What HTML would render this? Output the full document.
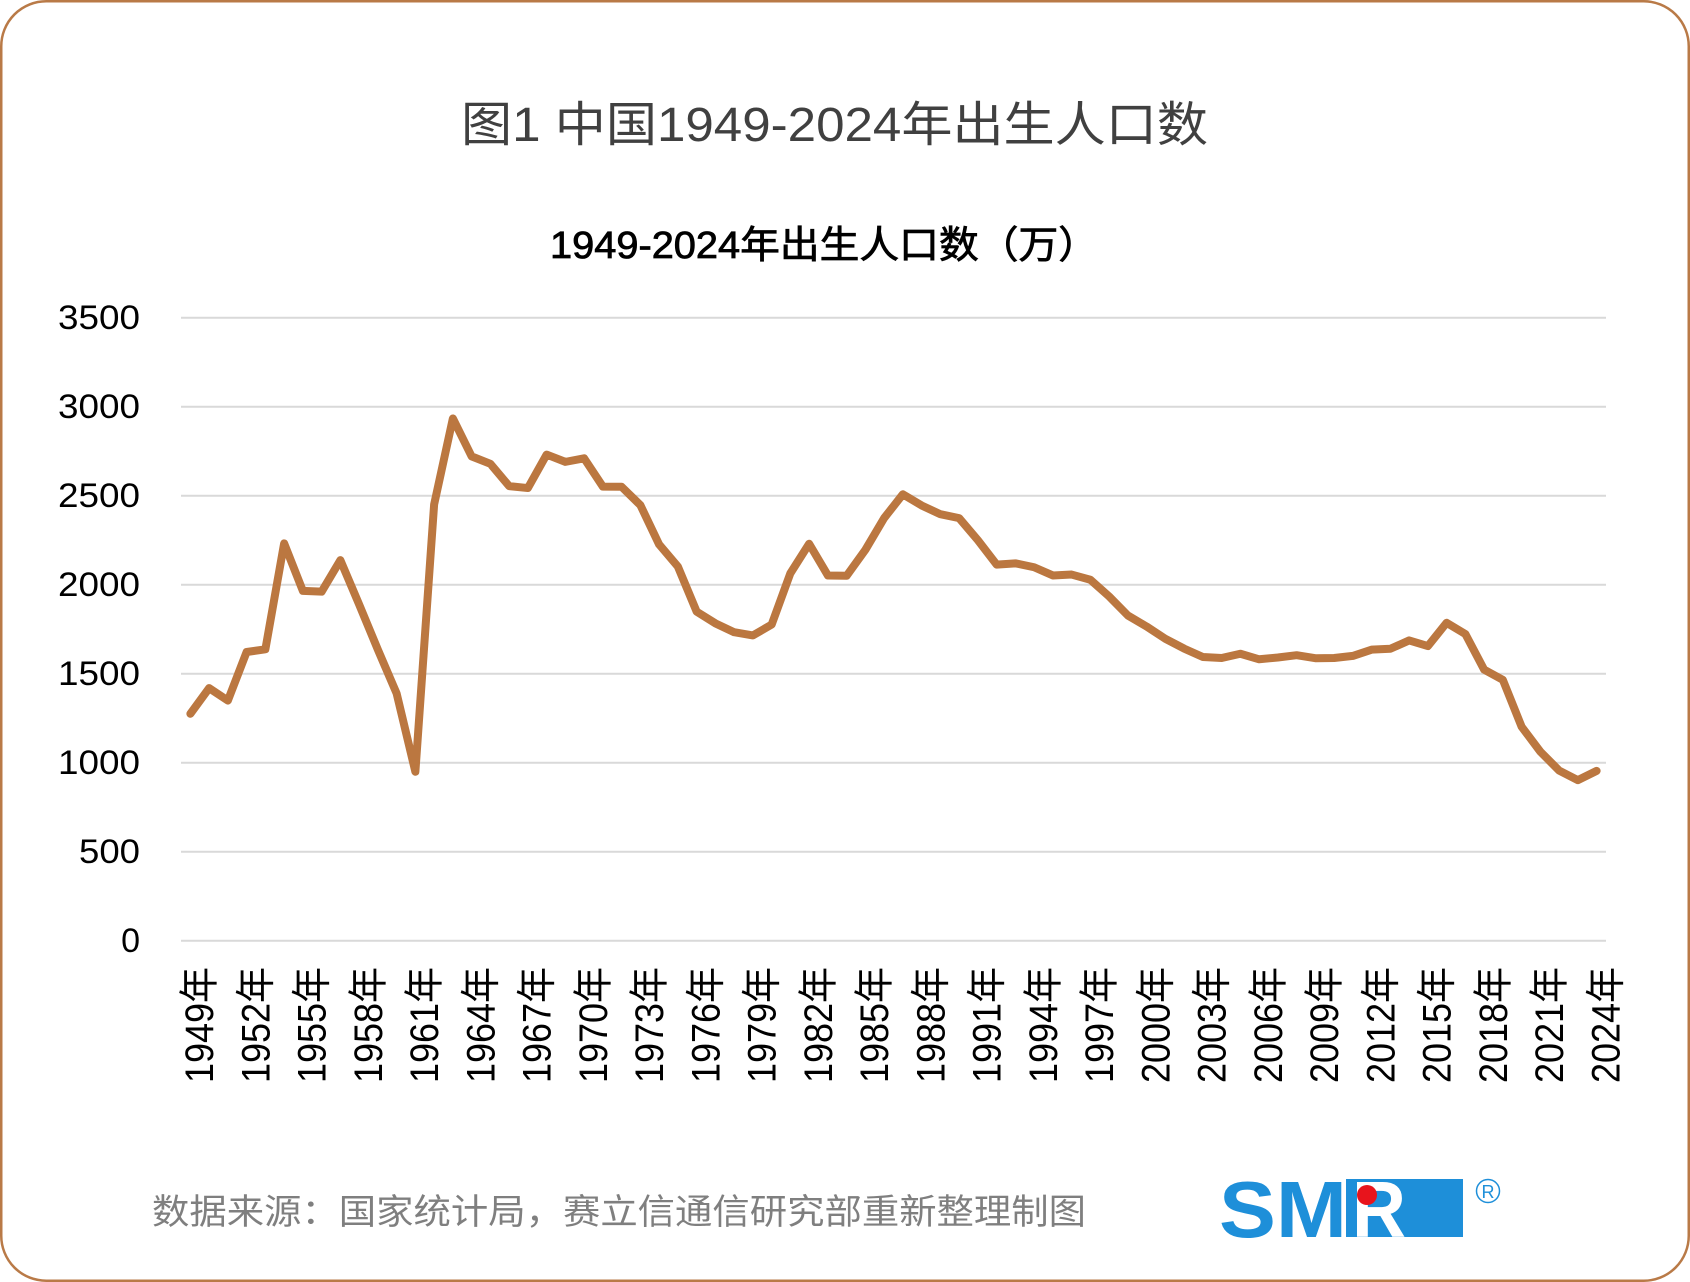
<!DOCTYPE html>
<html>
<head>
<meta charset="utf-8">
<style>
html,body{margin:0;padding:0;background:#fff;}
svg{display:block;}
</style>
</head>
<body>
<svg width="1690" height="1282" viewBox="0 0 1690 1282" xmlns="http://www.w3.org/2000/svg">
  <rect x="0" y="0" width="1690" height="1282" fill="#ffffff"/>
  <rect x="1.25" y="1.25" width="1687.5" height="1279.5" rx="45" ry="45" fill="#ffffff" stroke="#b97a47" stroke-width="2.5"/>

  <!-- Title -->
  <text x="461" y="141" font-family="'Liberation Sans','Noto Sans CJK SC',sans-serif" font-size="48" fill="#404040" textLength="747" lengthAdjust="spacingAndGlyphs">图1 中国1949-2024年出生人口数</text>
  <!-- Subtitle -->
  <text x="550" y="258" font-family="'Liberation Sans','Noto Sans CJK SC',sans-serif" font-size="38" fill="#000000" stroke="#000000" stroke-width="0.8" textLength="548" lengthAdjust="spacingAndGlyphs">1949-2024年出生人口数（万）</text>

  <!-- Gridlines -->
  <g stroke="#d9d9d9" stroke-width="2">
    <line x1="181" y1="317.7" x2="1606" y2="317.7"/>
    <line x1="181" y1="406.7" x2="1606" y2="406.7"/>
    <line x1="181" y1="495.7" x2="1606" y2="495.7"/>
    <line x1="181" y1="584.7" x2="1606" y2="584.7"/>
    <line x1="181" y1="673.7" x2="1606" y2="673.7"/>
    <line x1="181" y1="762.7" x2="1606" y2="762.7"/>
    <line x1="181" y1="851.7" x2="1606" y2="851.7"/>
    <line x1="181" y1="940.7" x2="1606" y2="940.7"/>
  </g>

  <!-- Y labels -->
  <g font-family="'Liberation Sans',sans-serif" font-size="34" fill="#000000" text-anchor="end">
    <text x="140" y="329.2" textLength="82" lengthAdjust="spacingAndGlyphs">3500</text>
    <text x="140" y="418.2" textLength="82" lengthAdjust="spacingAndGlyphs">3000</text>
    <text x="140" y="507.2" textLength="82" lengthAdjust="spacingAndGlyphs">2500</text>
    <text x="140" y="596.2" textLength="82" lengthAdjust="spacingAndGlyphs">2000</text>
    <text x="140" y="685.2" textLength="82" lengthAdjust="spacingAndGlyphs">1500</text>
    <text x="140" y="774.2" textLength="82" lengthAdjust="spacingAndGlyphs">1000</text>
    <text x="140" y="863.2" textLength="61" lengthAdjust="spacingAndGlyphs">500</text>
    <text x="140" y="952.2">0</text>
  </g>

  <!-- X labels (rotated) -->
  <g font-family="'Liberation Sans','Noto Sans CJK SC',sans-serif" font-size="36" fill="#000000" text-anchor="end">
    <text transform="translate(213,967) rotate(-90) scale(1,1.1)">1949年</text>
    <text transform="translate(269.25,967) rotate(-90) scale(1,1.1)">1952年</text>
    <text transform="translate(325.5,967) rotate(-90) scale(1,1.1)">1955年</text>
    <text transform="translate(381.75,967) rotate(-90) scale(1,1.1)">1958年</text>
    <text transform="translate(438,967) rotate(-90) scale(1,1.1)">1961年</text>
    <text transform="translate(494.25,967) rotate(-90) scale(1,1.1)">1964年</text>
    <text transform="translate(550.5,967) rotate(-90) scale(1,1.1)">1967年</text>
    <text transform="translate(606.75,967) rotate(-90) scale(1,1.1)">1970年</text>
    <text transform="translate(663,967) rotate(-90) scale(1,1.1)">1973年</text>
    <text transform="translate(719.25,967) rotate(-90) scale(1,1.1)">1976年</text>
    <text transform="translate(775.5,967) rotate(-90) scale(1,1.1)">1979年</text>
    <text transform="translate(831.75,967) rotate(-90) scale(1,1.1)">1982年</text>
    <text transform="translate(888,967) rotate(-90) scale(1,1.1)">1985年</text>
    <text transform="translate(944.25,967) rotate(-90) scale(1,1.1)">1988年</text>
    <text transform="translate(1000.5,967) rotate(-90) scale(1,1.1)">1991年</text>
    <text transform="translate(1056.75,967) rotate(-90) scale(1,1.1)">1994年</text>
    <text transform="translate(1113,967) rotate(-90) scale(1,1.1)">1997年</text>
    <text transform="translate(1169.25,967) rotate(-90) scale(1,1.1)">2000年</text>
    <text transform="translate(1225.5,967) rotate(-90) scale(1,1.1)">2003年</text>
    <text transform="translate(1281.75,967) rotate(-90) scale(1,1.1)">2006年</text>
    <text transform="translate(1338,967) rotate(-90) scale(1,1.1)">2009年</text>
    <text transform="translate(1394.25,967) rotate(-90) scale(1,1.1)">2012年</text>
    <text transform="translate(1450.5,967) rotate(-90) scale(1,1.1)">2015年</text>
    <text transform="translate(1506.75,967) rotate(-90) scale(1,1.1)">2018年</text>
    <text transform="translate(1563,967) rotate(-90) scale(1,1.1)">2021年</text>
    <text transform="translate(1619.25,967) rotate(-90) scale(1,1.1)">2024年</text>
  </g>

  <!-- Data line -->
  <g transform="translate(190.375,940.7) scale(18.75,-0.178)">
    <polyline fill="none" stroke="#bb7740" stroke-width="8" stroke-linejoin="round" stroke-linecap="round" vector-effect="non-scaling-stroke"
      points="0,1275 1,1419 2,1349 3,1622 4,1637 5,2232 6,1965 7,1961 8,2138 9,1889 10,1635 11,1389 12,949 13,2451 14,2934 15,2721 16,2679 17,2554 18,2543 19,2731 20,2690 21,2710 22,2551 23,2550 24,2447 25,2226 26,2102 27,1849 28,1783 29,1733 30,1715 31,1776 32,2064 33,2230 34,2052 35,2050 36,2196 37,2374 38,2508 39,2445 40,2396 41,2374 42,2250 43,2113 44,2120 45,2098 46,2052 47,2057 48,2028 49,1934 50,1827 51,1765 52,1696 53,1641 54,1594 55,1588 56,1612 57,1581 58,1591 59,1604 60,1587 61,1588 62,1600 63,1635 64,1640 65,1687 66,1655 67,1786 68,1723 69,1523 70,1465 71,1202 72,1062 73,956 74,902 75,954"/>
  </g>

  <!-- Source -->
  <text x="152" y="1224" font-family="'Liberation Sans','Noto Sans CJK SC',sans-serif" font-size="35" fill="#7f7f7f" textLength="934" lengthAdjust="spacingAndGlyphs">数据来源：国家统计局，赛立信通信研究部重新整理制图</text>

  <!-- SMR logo -->
  <g>
    <text x="1219" y="1237" font-family="'Liberation Sans',sans-serif" font-weight="bold" font-size="80" fill="#1e8fd9" textLength="128" lengthAdjust="spacingAndGlyphs">SM</text>
    <rect x="1346" y="1179" width="117" height="58" fill="#1e8fd9"/>
    <text x="1352" y="1237" font-family="'Liberation Sans',sans-serif" font-weight="bold" font-size="80" fill="#ffffff" textLength="54" lengthAdjust="spacingAndGlyphs">R</text>
    <circle cx="1367" cy="1195" r="10" fill="#e8141c"/>
    <circle cx="1488" cy="1191" r="11.5" fill="none" stroke="#1e8fd9" stroke-width="1.5"/>
    <text x="1488" y="1198" font-family="'Liberation Sans',sans-serif" font-size="18" fill="#1e8fd9" text-anchor="middle">R</text>
  </g>
</svg>
</body>
</html>
